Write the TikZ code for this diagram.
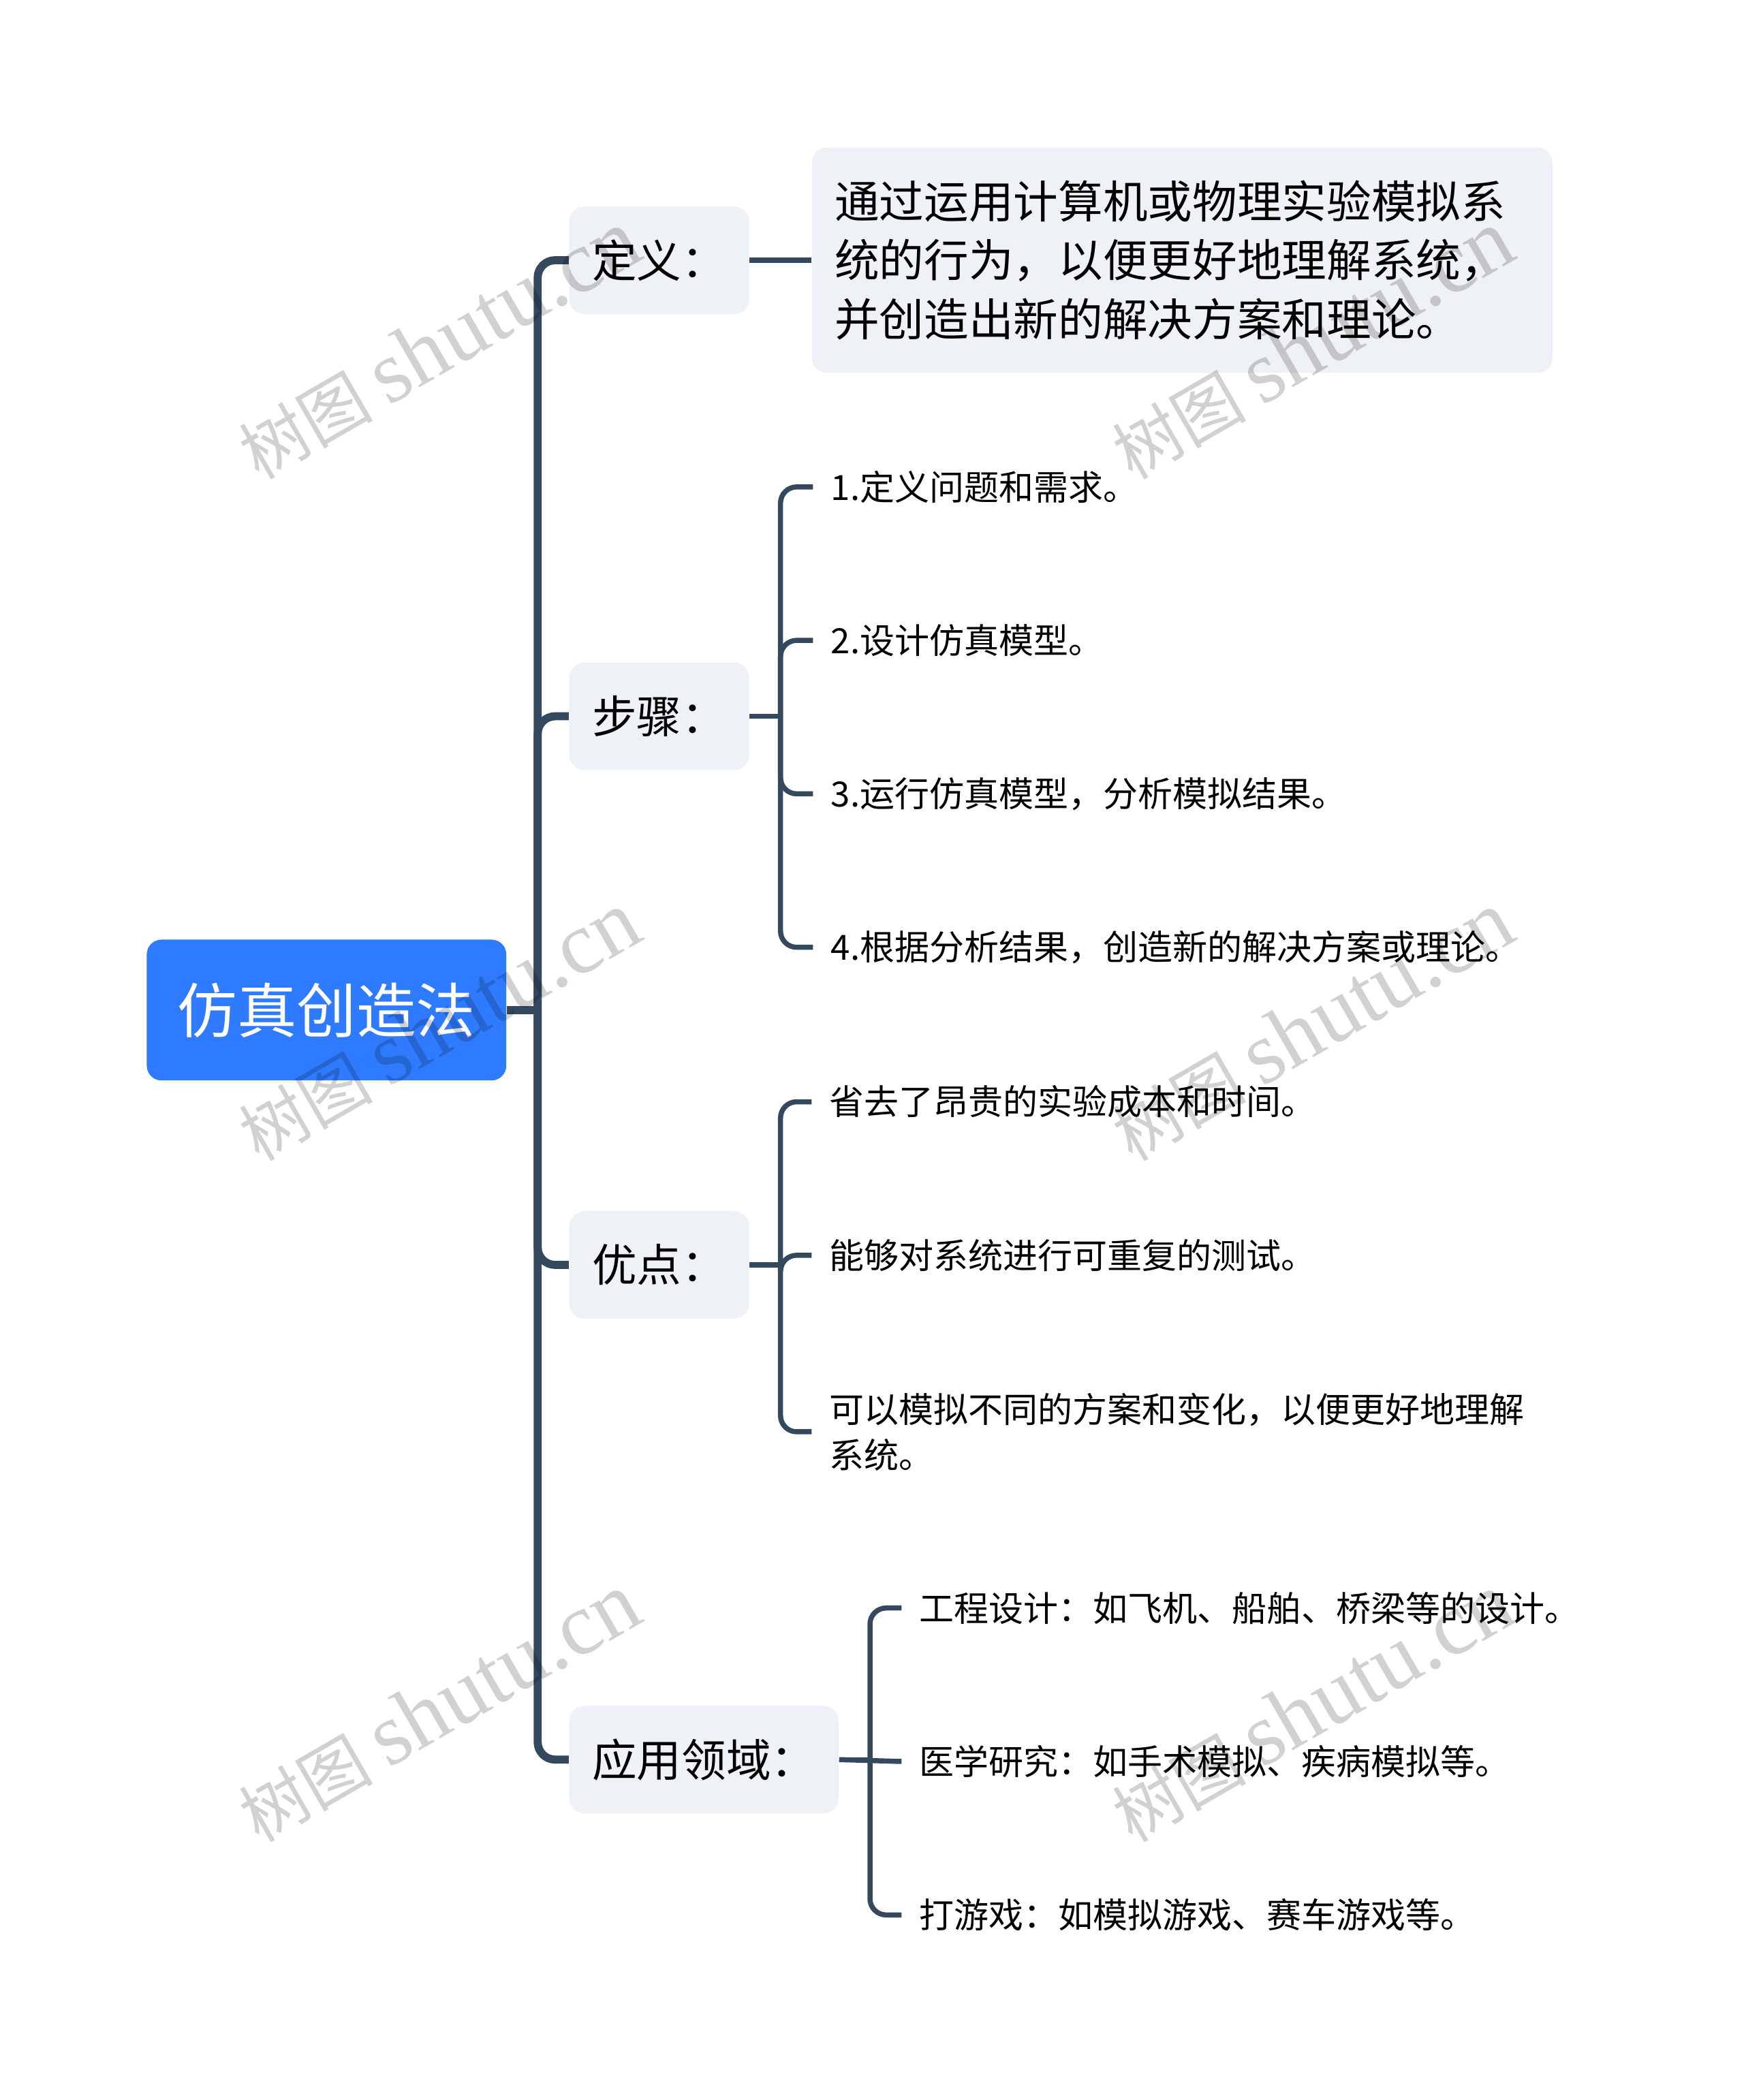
\documentclass[tikz,border=0pt]{standalone}
\usepackage{fontspec}
\setmainfont{Noto Sans CJK SC}
\newfontfamily\marklatin{Liberation Serif}
\usetikzlibrary{positioning}
\definecolor{rootblue}{HTML}{2E7BFF}
\definecolor{boxgray}{HTML}{EEF1F5}
\definecolor{linedark}{HTML}{34495E}

\begin{document}
\begin{tikzpicture}[node distance=39.8pt,
  every node/.style={text=black},
  rootbox/.style={fill=rootblue, rounded corners=5.5pt, inner xsep=11.5pt, minimum height=52.5pt, text=white, font=\fontsize{22.2}{26}\selectfont},
  topicbox/.style={fill=boxgray, rounded corners=5.5pt, inner xsep=8.5pt, minimum height=40pt, font=\fontsize{16.67}{22}\selectfont},
  leaf/.style={inner xsep=6.5pt, inner ysep=0pt, minimum height=17pt, align=left, font=\fontsize{12.95}{17}\selectfont},
  mainline/.style={draw=linedark, line width=3pt, rounded corners=6.5pt},
  subline/.style={draw=linedark, line width=1.9pt, rounded corners=6pt},
  stamp/.style={rotate=30, text=black, opacity=.18, font=\fontsize{25}{30}\selectfont}]
\useasboundingbox (0,0) rectangle (650pt,-782.8pt);
\node[rootbox, anchor=west] (Root) at (54.5pt,-376.5pt) {仿真创造法};
\node[topicbox, anchor=west] (Def) at (212pt,-97pt) {定义：};
\node[topicbox, below=129.6pt of Def.south west, anchor=north west] (Step) {步骤：};
\node[topicbox, below=164.1pt of Step.south west, anchor=north west] (Pro) {优点：};
\node[topicbox, below=144pt of Pro.south west, anchor=north west] (App) {应用领域：};
\node[topicbox, right=23pt of Def, minimum height=84pt, text width=259pt, align=left] (DefText) {通过运用计算机或物理实验模拟系\\统的行为，以便更好地理解系统，\\并创造出新的解决方案和理论。};
\node[leaf, anchor=west] (S1) at (303pt,-181.5pt) {1.定义问题和需求。};
\node[leaf, below=of S1.south west, anchor=north west] (S2) {2.设计仿真模型。};
\node[leaf, below=of S2.south west, anchor=north west] (S3) {3.运行仿真模型，分析模拟结果。};
\node[leaf, below=of S3.south west, anchor=north west] (S4) {4.根据分析结果，创造新的解决方案或理论。};
\node[leaf, anchor=west] (P1) at (302.5pt,-410.7pt) {省去了昂贵的实验成本和时间。};
\node[leaf, below=of P1.south west, anchor=north west] (P2) {能够对系统进行可重复的测试。};
\node[leaf, anchor=west] (P3) at (302.5pt,-533.7pt) {可以模拟不同的方案和变化，以便更好地理解\\系统。};
\node[leaf, anchor=west] (A1) at (336pt,-599.4pt) {工程设计：如飞机、船舶、桥梁等的设计。};
\node[leaf, below=of A1.south west, anchor=north west] (A2) {医学研究：如手术模拟、疾病模拟等。};
\node[leaf, below=of A2.south west, anchor=north west] (A3) {打游戏：如模拟游戏、赛车游戏等。};
\draw[mainline] (Root.east) -- ++(11.5pt,0) coordinate (RootHub);
\foreach \topic in {Def,Step,Pro,App}
  \draw[mainline] (RootHub) |- (\topic.west);
\draw[subline] (Def.east) -- (DefText.west);
\draw[subline] (Step.east) -- ++(11.5pt,0) coordinate (StepHub);
\foreach \item in {S1,S2,S3,S4}
  \draw[subline] (StepHub) |- (\item.west);
\draw[subline] (Pro.east) -- ++(11.5pt,0) coordinate (ProHub);
\foreach \item in {P1,P2,P3}
  \draw[subline] (ProHub) |- (\item.west);
\draw[subline] (App.east) -- ++(11.5pt,0) coordinate (AppHub);
\foreach \item in {A1,A3}
  \draw[subline] (AppHub) |- (\item.west);
\draw[subline] (App.east) -- (A2.west);
\foreach \mx/\my/\mname in {163.5/-128.5/a,489/-128.5/b,163.5/-382.5/c,489/-382.5/d,163.5/-636.5/e,489/-636.5/f}
  \node[stamp] (Mark\mname) at (\mx pt,\my pt) {树图 {\marklatin\fontsize{33}{36}\selectfont shutu.cn}};
\end{tikzpicture}
\end{document}
